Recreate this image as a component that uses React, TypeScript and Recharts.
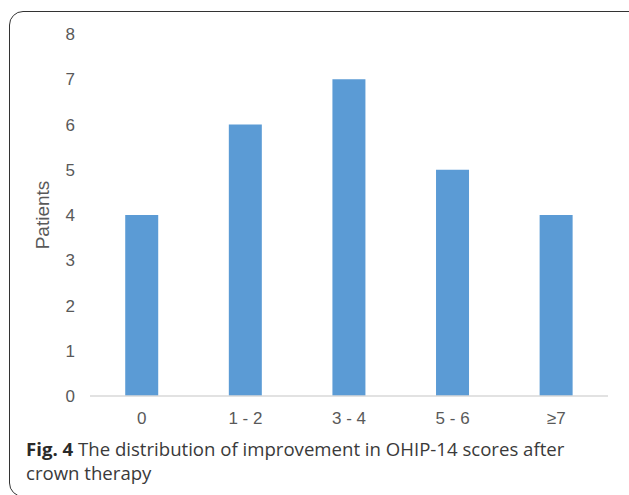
import { BarChart, Bar, XAxis, YAxis } from "recharts";

const categories = ["0", "1 - 2", "3 - 4", "5 - 6", "≥7"];
const patients = [4, 6, 7, 5, 4];
const yTicks = [0, 1, 2, 3, 4, 5, 6, 7, 8];

const data = categories.map((c, i) => ({ range: c, patients: patients[i] }));

const tickStyle = { fill: "#595959", fontSize: 17, fontFamily: "'Liberation Sans', Arial, sans-serif" };

export default function App() {
  return (
    <div style={{ position: "fixed", left: 0, top: 0, width: 629, height: 495, overflow: "hidden", background: "#fff" }}>
      <div style={{ position: "absolute", left: 9, top: 11, width: 660, height: 484, border: "1.6px solid #333", borderRadius: 14 }} />
      <div style={{ position: "absolute", left: 0, top: 0 }}>
        <BarChart width={629} height={495} data={data} margin={{ top: 34, right: 21, bottom: 59, left: 0 }} barCategoryGap="34%">
          <XAxis
            dataKey="range"
            height={40}
            axisLine={{ stroke: "#d9d9d9", strokeWidth: 1.5 }}
            tickLine={false}
            tickMargin={10}
            tick={tickStyle}
          />
          <YAxis
            width={90}
            domain={[0, 8]}
            ticks={yTicks}
            interval={0}
            axisLine={false}
            tickLine={false}
            tickMargin={9}
            tick={tickStyle}
            label={{
              value: "Patients",
              angle: -90,
              position: "insideLeft",
              offset: 42,
              style: { textAnchor: "middle", fill: "#595959", fontSize: 19, fontFamily: "'Liberation Sans', Arial, sans-serif" },
            }}
          />
          <Bar dataKey="patients" fill="#5b9bd5" isAnimationActive={false} />
        </BarChart>
      </div>
      <div
        style={{
          position: "absolute",
          left: 26,
          top: 437,
          width: 595,
          fontFamily: "'Open Sans', sans-serif",
          fontSize: 18.6,
          lineHeight: "24px",
          color: "#3a3a3a",
        }}
      >
        <b style={{ color: "#2a2a2a" }}>Fig. 4</b> The distribution of improvement in OHIP-14 scores after
        <br />
        crown therapy
      </div>
    </div>
  );
}
